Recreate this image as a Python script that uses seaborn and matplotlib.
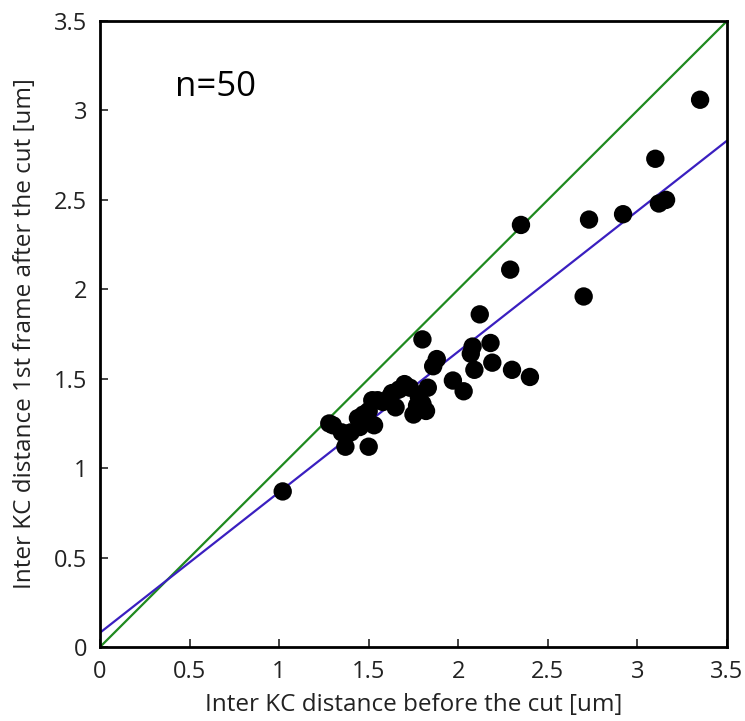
import numpy as np
import pandas as pd
import seaborn as sns
import matplotlib
matplotlib.use('Agg')
import matplotlib.pyplot as plt

# distances before the cut [um]
before = [1.02, 1.28, 1.30, 1.35, 1.37, 1.40, 1.44, 1.45, 1.47, 1.50,
          1.50, 1.52, 1.53, 1.55, 1.58, 1.63, 1.65, 1.67, 1.70, 1.75,
          1.77, 1.78, 1.80, 1.80, 1.82, 1.83, 1.86, 1.88, 1.97, 2.03,
          2.07, 2.08, 2.09, 2.12, 2.18, 2.19, 2.29, 2.30, 2.35, 2.40,
          2.70, 2.73, 2.92, 3.10, 3.12, 3.16, 3.35, 1.62, 1.48, 1.73]
# distances 1st frame after the cut [um]
after = [0.87, 1.25, 1.24, 1.20, 1.12, 1.20, 1.28, 1.23, 1.30, 1.12,
         1.32, 1.38, 1.24, 1.38, 1.37, 1.42, 1.34, 1.44, 1.47, 1.30,
         1.35, 1.40, 1.72, 1.36, 1.32, 1.45, 1.57, 1.61, 1.49, 1.43,
         1.64, 1.68, 1.55, 1.86, 1.70, 1.59, 2.11, 1.55, 2.36, 1.51,
         1.96, 2.39, 2.42, 2.73, 2.48, 2.50, 3.06, 1.40, 1.26, 1.45]

# identity line and linear fit
line_x = [0, 3.5]
fit_slope = 0.786
fit_intercept = 0.08

xticks = [0, 0.5, 1, 1.5, 2, 2.5, 3, 3.5]
tick_labels = ['0', '0.5', '1', '1.5', '2', '2.5', '3', '3.5']

df = pd.DataFrame({'before': before, 'after': after})

sns.set_style('white')
plt.rcParams['font.family'] = ['Open Sans', 'DejaVu Sans']

fig = plt.figure(figsize=(7.45, 7.21), dpi=100)
ax = fig.add_axes([0.1342, 0.1026, 0.8416, 0.8682])

ax.plot(line_x, line_x, color='#1f8a1f', lw=1.6)
ax.plot(line_x, [fit_intercept + fit_slope * v for v in line_x], color='#3a1fc0', lw=1.6)
sns.scatterplot(data=df, x='before', y='after', color='black', s=175,
                edgecolor='none', ax=ax, zorder=3)

ax.set_xlim(0, 3.5)
ax.set_ylim(0, 3.5)
ax.set_xticks(xticks)
ax.set_xticklabels(tick_labels)
ax.set_yticks(xticks)
ax.set_yticklabels(tick_labels)
ax.tick_params(direction='in', length=6, width=1.2, labelsize=17, colors='#222222',
               bottom=True, left=True, pad=9)
for s in ax.spines.values():
    s.set_linewidth(2)
    s.set_color('black')

ax.set_xlabel('Inter KC distance before the cut [um]', fontsize=17.5, color='#222222', labelpad=7)
ax.set_ylabel('Inter KC distance 1st frame after the cut [um]', fontsize=17.5, color='#222222', labelpad=12)
ax.text(0.42, 3.13, 'n=50', fontsize=25, color='black', va='center')

fig.savefig('out.png', dpi=100)
